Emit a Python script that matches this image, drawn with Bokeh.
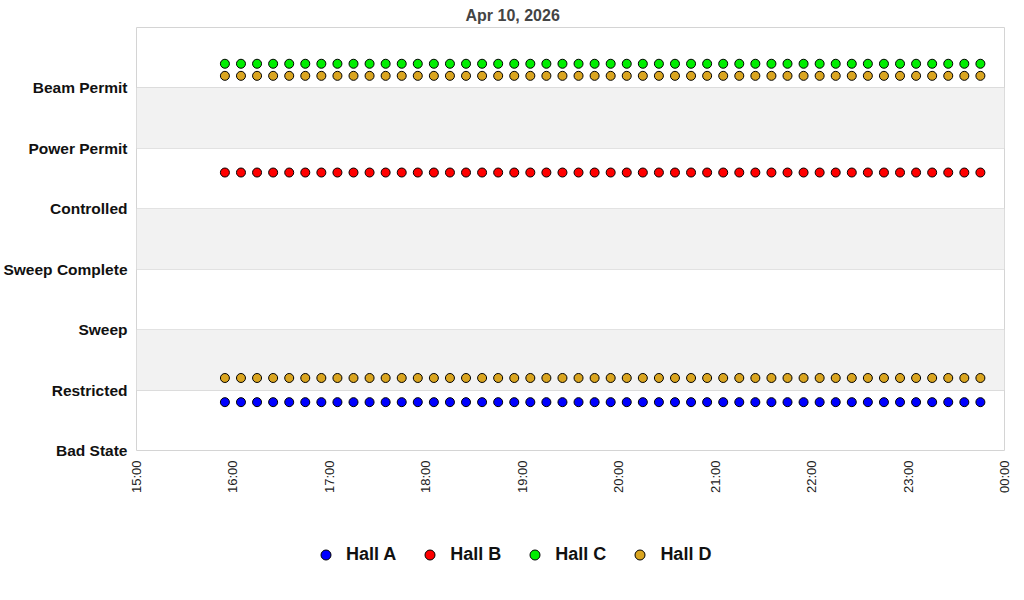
from datetime import datetime
from bokeh.plotting import figure
from bokeh.layouts import column
from bokeh.models import (FixedTicker, DatetimeTickFormatter, BoxAnnotation, Legend,
                          LegendItem, ColumnDataSource, Range1d)
from bokeh.embed import file_html
from bokeh.resources import INLINE
import math

title = "Apr 10, 2026"
states = ["Bad State", "Restricted", "Sweep", "Sweep Complete", "Controlled",
          "Power Permit", "Beam Permit"]
times = ["15:55", "16:05", "16:15", "16:25", "16:35", "16:45", "16:55", "17:05",
         "17:15", "17:25", "17:35", "17:45", "17:55", "18:05", "18:15", "18:25",
         "18:35", "18:45", "18:55", "19:05", "19:15", "19:25", "19:35", "19:45",
         "19:55", "20:05", "20:15", "20:25", "20:35", "20:45", "20:55", "21:05",
         "21:15", "21:25", "21:35", "21:45", "21:55", "22:05", "22:15", "22:25",
         "22:35", "22:45", "22:55", "23:05", "23:15", "23:25", "23:35", "23:45"]
hall_a = [0.8, 0.8, 0.8, 0.8, 0.8, 0.8, 0.8, 0.8, 0.8, 0.8, 0.8, 0.8,
          0.8, 0.8, 0.8, 0.8, 0.8, 0.8, 0.8, 0.8, 0.8, 0.8, 0.8, 0.8,
          0.8, 0.8, 0.8, 0.8, 0.8, 0.8, 0.8, 0.8, 0.8, 0.8, 0.8, 0.8,
          0.8, 0.8, 0.8, 0.8, 0.8, 0.8, 0.8, 0.8, 0.8, 0.8, 0.8, 0.8]
hall_b = [4.6, 4.6, 4.6, 4.6, 4.6, 4.6, 4.6, 4.6, 4.6, 4.6, 4.6, 4.6,
          4.6, 4.6, 4.6, 4.6, 4.6, 4.6, 4.6, 4.6, 4.6, 4.6, 4.6, 4.6,
          4.6, 4.6, 4.6, 4.6, 4.6, 4.6, 4.6, 4.6, 4.6, 4.6, 4.6, 4.6,
          4.6, 4.6, 4.6, 4.6, 4.6, 4.6, 4.6, 4.6, 4.6, 4.6, 4.6, 4.6]
hall_c = [6.4, 6.4, 6.4, 6.4, 6.4, 6.4, 6.4, 6.4, 6.4, 6.4, 6.4, 6.4,
          6.4, 6.4, 6.4, 6.4, 6.4, 6.4, 6.4, 6.4, 6.4, 6.4, 6.4, 6.4,
          6.4, 6.4, 6.4, 6.4, 6.4, 6.4, 6.4, 6.4, 6.4, 6.4, 6.4, 6.4,
          6.4, 6.4, 6.4, 6.4, 6.4, 6.4, 6.4, 6.4, 6.4, 6.4, 6.4, 6.4]
hall_d_upper = [6.2, 6.2, 6.2, 6.2, 6.2, 6.2, 6.2, 6.2, 6.2, 6.2, 6.2, 6.2,
                6.2, 6.2, 6.2, 6.2, 6.2, 6.2, 6.2, 6.2, 6.2, 6.2, 6.2, 6.2,
                6.2, 6.2, 6.2, 6.2, 6.2, 6.2, 6.2, 6.2, 6.2, 6.2, 6.2, 6.2,
                6.2, 6.2, 6.2, 6.2, 6.2, 6.2, 6.2, 6.2, 6.2, 6.2, 6.2, 6.2]
hall_d_lower = [1.2, 1.2, 1.2, 1.2, 1.2, 1.2, 1.2, 1.2, 1.2, 1.2, 1.2, 1.2,
                1.2, 1.2, 1.2, 1.2, 1.2, 1.2, 1.2, 1.2, 1.2, 1.2, 1.2, 1.2,
                1.2, 1.2, 1.2, 1.2, 1.2, 1.2, 1.2, 1.2, 1.2, 1.2, 1.2, 1.2,
                1.2, 1.2, 1.2, 1.2, 1.2, 1.2, 1.2, 1.2, 1.2, 1.2, 1.2, 1.2]
hour_ticks = ["2026-04-10 15:00", "2026-04-10 16:00", "2026-04-10 17:00",
              "2026-04-10 18:00", "2026-04-10 19:00", "2026-04-10 20:00",
              "2026-04-10 21:00", "2026-04-10 22:00", "2026-04-10 23:00",
              "2026-04-11 00:00"]
hall_names = ["Hall A", "Hall B", "Hall C", "Hall D"]
hall_colors = ["#0000ff", "#ff0000", "#00ee00", "#daa520"]

def ms(s):
    return datetime.strptime(s, "%Y-%m-%d %H:%M").timestamp() * 1000.0

xs = [ms("2026-04-10 " + t) for t in times]
xticks = [ms(t) for t in hour_ticks]

FONT = "Liberation Sans"

p = figure(width=1016, height=498, output_backend="svg", toolbar_location=None,
           x_axis_type="datetime",
           x_range=Range1d(xticks[0], xticks[-1]), y_range=Range1d(0, 7),
           min_border_left=136, min_border_right=12, min_border_top=27,
           min_border_bottom=48)

p.title.text = title
p.title.align = "left"
p.title.offset = 329
p.title.vertical_align = "top"
p.title.text_font = FONT
p.title.text_font_size = "16px"
p.title.text_font_style = "bold"
p.title.text_color = "#444444"
p.title.standoff = 4

p.outline_line_color = "#d4d4d4"
p.outline_line_width = 1
p.background_fill_color = "white"
p.border_fill_color = "white"

for b in (1, 3, 5):
    p.add_layout(BoxAnnotation(bottom=b, top=b + 1, fill_color="#f2f2f2",
                               fill_alpha=1.0, line_color=None, level="underlay"))

p.xgrid.grid_line_color = None
p.ygrid.grid_line_color = "#dcdcdc"
p.ygrid.grid_line_width = 1

p.yaxis.ticker = FixedTicker(ticks=list(range(len(states))))
p.yaxis.major_label_overrides = {i: s for i, s in enumerate(states)}
p.yaxis.major_label_text_font = FONT
p.yaxis.major_label_text_font_size = "15.5px"
p.yaxis.major_label_text_font_style = "bold"
p.yaxis.major_label_text_color = "#111111"
p.yaxis.major_label_standoff = 9
p.yaxis.axis_line_color = None
p.yaxis.major_tick_line_color = None
p.yaxis.minor_tick_line_color = None
p.yaxis.major_tick_out = 0
p.yaxis.minor_tick_out = 0

p.xaxis.ticker = FixedTicker(ticks=xticks)
p.xaxis.formatter = DatetimeTickFormatter(hours="%H:%M", days="%H:%M",
                                          minutes="%H:%M", hourmin="%H:%M")
p.xaxis.major_label_orientation = math.pi / 2
p.xaxis.major_label_text_font = FONT
p.xaxis.major_label_text_font_size = "13px"
p.xaxis.major_label_text_color = "#222222"
p.xaxis.major_label_standoff = 10
p.xaxis.axis_line_color = None
p.xaxis.major_tick_line_color = None
p.xaxis.minor_tick_line_color = None
p.xaxis.major_tick_out = 0
p.xaxis.minor_tick_out = 0

series_vals = [hall_a, hall_b, hall_c, hall_d_upper, hall_d_lower]
series_cols = [hall_colors[0], hall_colors[1], hall_colors[2], hall_colors[3], hall_colors[3]]
for vals, col in zip(series_vals, series_cols):
    src = ColumnDataSource(dict(x=xs, y=vals))
    p.scatter("x", "y", source=src, size=9, fill_color=col,
              line_color="black", line_width=1)

# legend strip below the chart (its renderers' data lie outside its range)
lg = figure(width=1016, height=94, output_backend="svg", toolbar_location=None,
            x_range=Range1d(0, 1), y_range=Range1d(0, 1),
            min_border=0, x_axis_location=None, y_axis_location=None)
lg.grid.visible = False
lg.outline_line_color = None
lg.background_fill_color = "white"
lg.border_fill_color = "white"
items = []
for name, col, vals in zip(hall_names, hall_colors, [hall_a, hall_b, hall_c, hall_d_upper]):
    src = ColumnDataSource(dict(x=xs, y=vals))
    r = lg.scatter("x", "y", source=src, size=10, fill_color=col,
                   line_color="black", line_width=1)
    items.append(LegendItem(label=name, renderers=[r], index=0))
legend = Legend(items=items, orientation="horizontal", location=(177, 25),
                label_text_font=FONT, label_text_font_size="18px",
                label_text_font_style="bold", label_text_color="#111111",
                glyph_width=25, glyph_height=25, label_standoff=8, spacing=21,
                border_line_color=None, background_fill_alpha=0,
                margin=0, padding=0)
lg.add_layout(legend, "center")

layout = column(p, lg, spacing=0)
open("out.html", "w").write(file_html(layout, INLINE))
